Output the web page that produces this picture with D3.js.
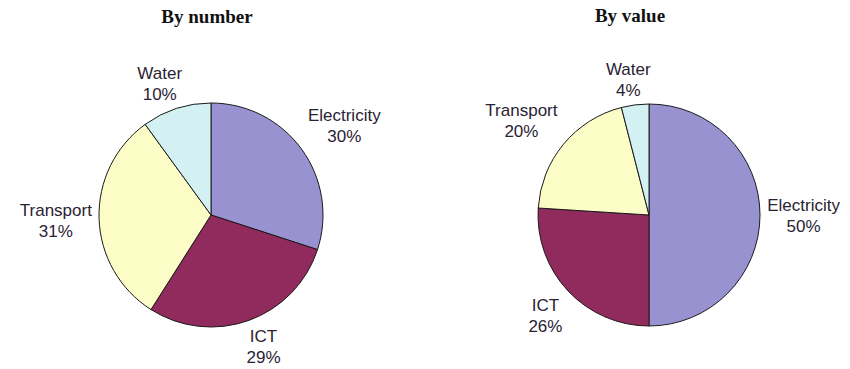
<!DOCTYPE html>
<html><head><meta charset="utf-8">
<script src="https://cdn.jsdelivr.net/npm/d3@7"></script>
<style>body{margin:0;background:#fff}svg{display:block}</style>
</head><body>
<svg id="c" width="850" height="369"></svg>
<script>
const categories = ["Electricity", "ICT", "Transport", "Water"];
const byNumber = [30, 29, 31, 10];
const byValue = [50, 26, 20, 4];
const titles = ["By number", "By value"];
const colors = ["#9892d1", "#912a5d", "#fcfcc6", "#d3f1f2"];

const svg = d3.select("#c");
const color = d3.scaleOrdinal().domain(categories).range(colors);

const charts = [
  {title: titles[0], values: byNumber, cx: 211, cy: 215, r: 112, tx: 207, ty: 23},
  {title: titles[1], values: byValue, cx: 649, cy: 215, r: 111, tx: 630, ty: 22}
];

const pie = d3.pie().sort(null).value(d => d.v);
const clampS = x => Math.max(-1, Math.min(1, x * 2));

charts.forEach(ch => {
  svg.append("text").attr("x", ch.tx).attr("y", ch.ty)
    .attr("text-anchor", "middle")
    .style("font-family", "'Liberation Serif','Times New Roman',serif")
    .style("font-weight", "bold").style("font-size", "19px").attr("fill", "#111")
    .text(ch.title);

  const g = svg.append("g").attr("transform", `translate(${ch.cx},${ch.cy})`);
  const data = pie(categories.map((c, i) => ({c, v: ch.values[i]})));
  const arc = d3.arc().innerRadius(0).outerRadius(ch.r);
  g.selectAll("path").data(data).join("path")
    .attr("d", arc).attr("fill", d => color(d.data.c))
    .attr("stroke", "#1a1a1a").attr("stroke-width", 1);

  const R0 = ch.r + 5;
  data.forEach(d => {
    const a = (d.startAngle + d.endAngle) / 2;
    const s = Math.sin(a), c = Math.cos(a);
    const px = R0 * s, py = -R0 * c;
    const t = g.append("text")
      .style("font-family", "'Liberation Sans',Arial,sans-serif")
      .style("font-size", "17px").attr("fill", "#2a2233")
      .attr("text-anchor", "middle");
    t.append("tspan").attr("x", 0).attr("dy", 0).text(d.data.c);
    t.append("tspan").attr("x", 0).attr("dy", 21).text(d.data.v + "%");
    const bb = t.node().getBBox();
    const w = bb.width, h = 42;
    const lx = px + (w / 2 + 2) * clampS(s);
    const ly = py - (h / 2) * clampS(c);
    t.attr("transform", `translate(${lx},${ly - 4})`);
  });
});
</script>
</body></html>
